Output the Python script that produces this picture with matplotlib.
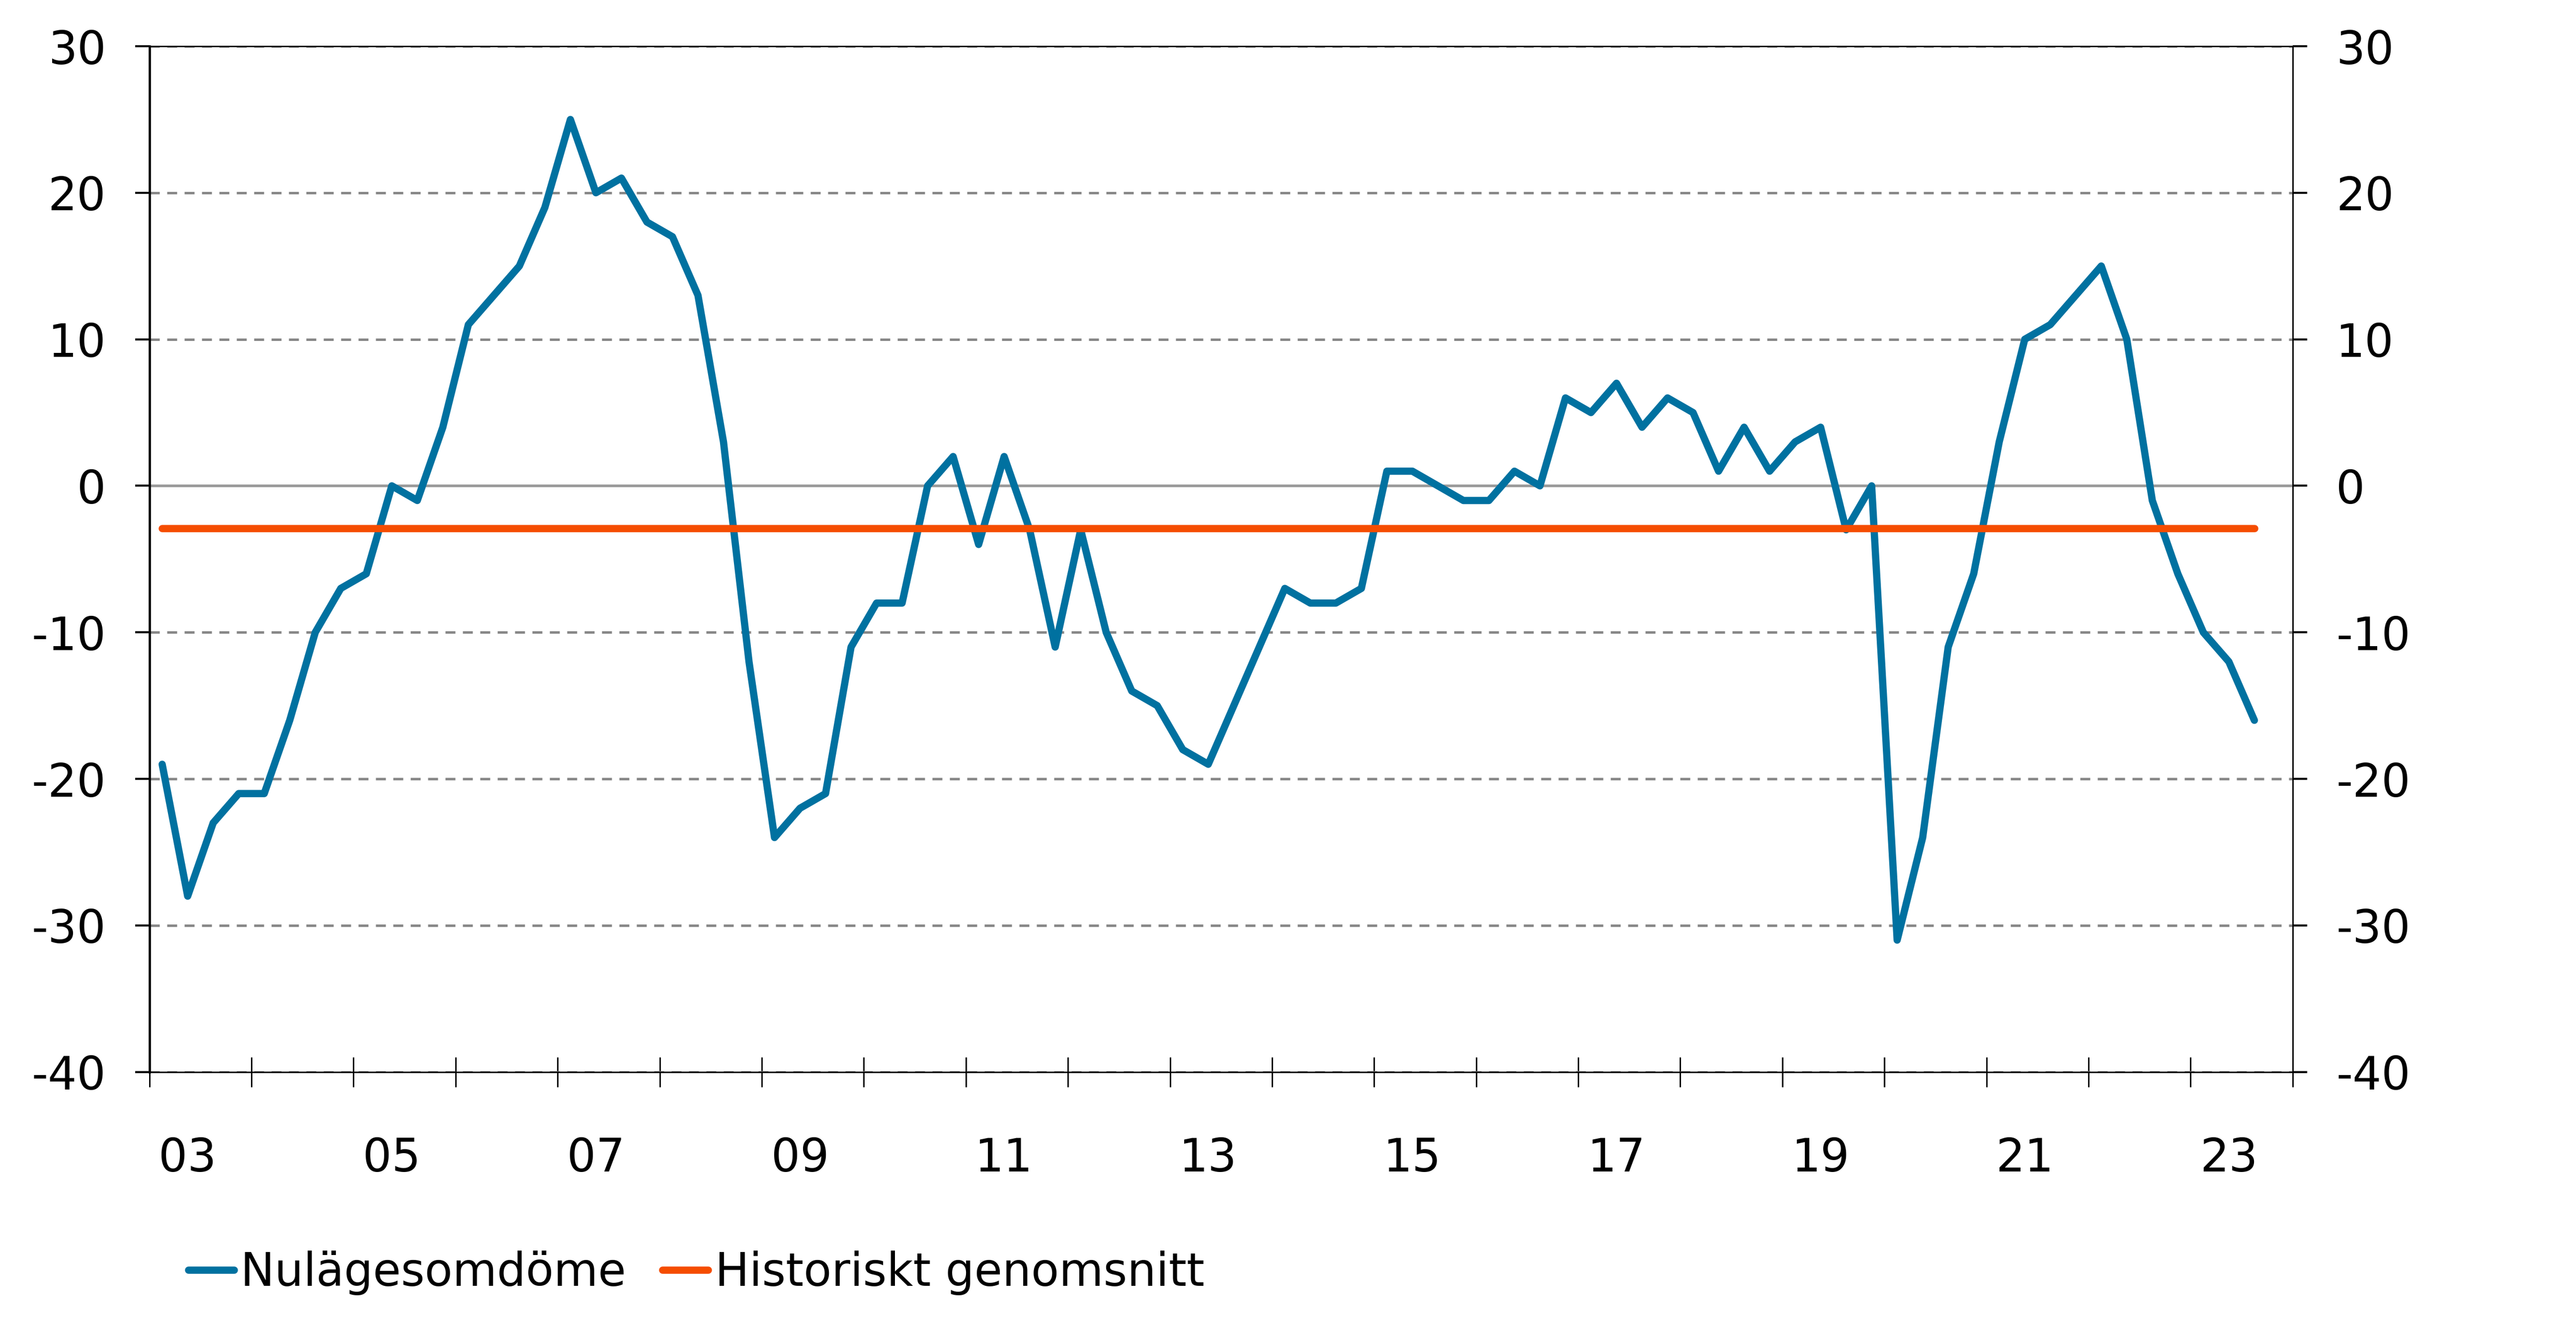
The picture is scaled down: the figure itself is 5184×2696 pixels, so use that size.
import matplotlib
matplotlib.use("Agg")
import matplotlib.pyplot as plt
import numpy as np

# Quarterly series 2003Q1 - 2023Q3
nulage = [
    -19, -28, -23, -21,   # 2003
    -21, -16, -10, -7,    # 2004
    -6, 0, -1, 4,         # 2005
    11, 13, 15, 19,       # 2006
    25, 20, 21, 18,       # 2007
    17, 13, 3, -12,       # 2008
    -24, -22, -21, -11,   # 2009
    -8, -8, 0, 2,         # 2010
    -4, 2, -3, -11,       # 2011
    -3, -10, -14, -15,    # 2012
    -18, -19, -15, -11,   # 2013
    -7, -8, -8, -7,       # 2014
    1, 1, 0, -1,          # 2015
    -1, 1, 0, 6,          # 2016
    5, 7, 4, 6,           # 2017
    5, 1, 4, 1,           # 2018
    3, 4, -3, 0,          # 2019
    -31, -24, -11, -6,    # 2020
    3, 10, 11, 13,        # 2021
    15, 10, -1, -6,       # 2022
    -10, -12, -16,        # 2023
]
hist_avg = -2.9
year_labels = ["03", "05", "07", "09", "11", "13", "15", "17", "19", "21", "23"]
series_names = ["Nulägesomdöme", "Historiskt genomsnitt"]

blue = "#0071A0"
orange = "#F54D00"

plt.rcParams["font.family"] = ["DejaVu Sans"]
plt.rcParams["axes.unicode_minus"] = False

fig = plt.figure(figsize=(17.28, 8.9867), dpi=300)
ax = fig.add_axes([0.058, 0.200, 0.832, 0.7655])

x = np.arange(len(nulage))
ax.set_xlim(-0.5, 83.5)
ax.set_ylim(-40, 30)

# grid and zero line
ax.set_yticks(np.arange(-40, 31, 10))
ax.yaxis.grid(True, color="#888888", lw=1.2, linestyle=(0, (4, 3)))
ax.set_axisbelow(True)
ax.axhline(0, color="#9a9a9a", lw=1.3, zorder=1)

l1, = ax.plot(x, nulage, color=blue, lw=3.5, solid_joinstyle="round",
              solid_capstyle="round", zorder=3)
l2, = ax.plot(x, [hist_avg] * len(nulage), color=orange, lw=3.5,
              solid_capstyle="round", zorder=4)

# x axis: year ticks between quarters, labels on every other year
ax.set_xticks(np.arange(-0.5, 84, 4))
ax.set_xticklabels([])
ax.set_xticks(np.arange(1, 84, 8), minor=True)
ax.set_xticklabels(year_labels, minor=True)
ax.tick_params(axis="x", which="major", direction="inout", length=14.4,
               width=0.7, color="black")
ax.tick_params(axis="x", which="minor", length=0, pad=31, labelsize=22)

ax.tick_params(axis="y", which="major", left=True, right=True,
               labelleft=True, labelright=True, direction="out",
               length=7, width=1.0, pad=14, labelsize=22)

ax.spines["left"].set_linewidth(1.1)
for side in ["right", "top", "bottom"]:
    ax.spines[side].set_linewidth(0.7)
for s in ax.spines.values():
    s.set_color("black")

fig.legend([l1, l2], series_names, loc="center left",
           bbox_to_anchor=(0.0731, 0.05), ncol=2, frameon=False,
           handlelength=1.0, handletextpad=0.15, columnspacing=0.8,
           borderpad=0, borderaxespad=0, fontsize=22)

fig.savefig("out.png", dpi=300)
